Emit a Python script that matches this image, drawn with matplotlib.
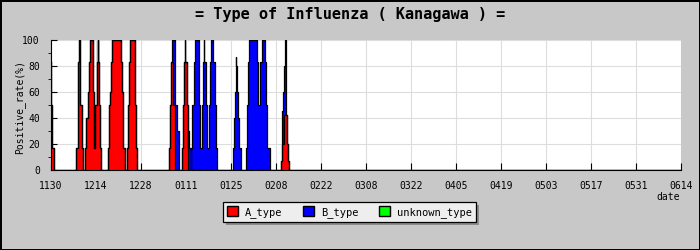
import matplotlib

matplotlib.use("Agg")

import matplotlib.pyplot as plt
import numpy as np
from matplotlib.patches import Patch

# x axis: days counted from 11/30, ticks every two weeks
tick_labels = ["1130", "1214", "1228", "0111", "0125", "0208", "0222",
               "0308", "0322", "0405", "0419", "0503", "0517", "0531", "0614"]
tick_days = [0, 14, 28, 42, 56, 70, 84, 98, 112, 126, 140, 154, 168, 182, 196]

# A_type: step breakpoints (day offset) and positive rate from that point on
a_days = [0.0, 0.15, 0.4, 0.85,
          7.87, 8.31, 8.49, 8.8, 8.96, 9.12, 9.55, 9.96,
          10.6, 11.0, 11.4, 11.7, 11.98, 13.0, 13.2, 13.47, 13.78,
          14.31, 14.53, 14.72, 15.03, 15.34, 15.71,
          17.83, 18.14, 18.36, 18.57, 18.98, 21.87, 22.09, 22.31, 22.49, 22.93,
          23.74, 24.05, 24.27, 24.67, 25.98, 26.23, 26.44, 26.66,
          36.81, 37.12, 37.43, 38.06, 38.49, 38.68,
          40.85, 41.16, 41.47, 42.22, 42.53, 42.72,
          71.6, 71.8, 72.4, 73.34, 73.84, 74.05]
a_rate = [83, 50, 17, 0,
          17, 50, 83, 100, 83, 50, 17, 0,
          17, 40, 60, 83, 100, 83, 60, 17, 50,
          83, 100, 83, 50, 17, 0,
          17, 50, 60, 83, 100, 83, 60, 50, 17, 0,
          17, 50, 83, 100, 83, 50, 17, 0,
          17, 50, 83, 50, 17, 0,
          17, 50, 83, 50, 17, 0,
          7, 20, 42, 20, 7, 0]

# B_type: stacked on top of A_type
b_days = [37.74, 38.06, 38.49, 38.68, 39.3, 39.73, 39.92,
          41.69, 41.8, 42.72, 43.03, 43.47,
          43.56, 44.02, 44.49, 44.89, 45.95, 46.14, 46.45,
          47.0, 47.21, 47.61, 47.72, 48.15, 48.57,
          49.2, 49.47, 49.78, 50.5, 50.94, 51.34, 51.74,
          56.72, 57.0, 57.3, 57.5, 57.6, 57.7, 57.96, 58.3, 58.6, 59.02,
          60.67, 60.89, 61.2, 61.7, 64.0, 64.31, 65.13, 65.56, 66.68, 67.0,
          67.31, 68.15,
          71.96, 72.27, 72.4, 72.59, 72.87, 73.0, 73.12]
b_rate = [17, 50, 83, 50, 30, 17, 0,
          17, 0, 30, 17, 0,
          17, 50, 83, 100, 83, 50, 17,
          50, 83, 100, 83, 50, 17,
          50, 83, 100, 83, 50, 17, 0,
          17, 40, 60, 80, 87, 80, 60, 40, 17, 0,
          17, 50, 83, 100, 83, 50, 83, 100, 83, 50,
          17, 0,
          25, 40, 18, 38, 58, 38, 0]

# unknown_type: nothing reported
u_days = []
u_rate = []


def step_values(days, rates, grid):
    if len(days) == 0:
        return np.zeros_like(grid)
    days = np.asarray(days, dtype=float)
    rates = np.asarray(rates, dtype=float)
    idx = np.searchsorted(days, grid, side="right") - 1
    return np.where(idx >= 0, rates[np.clip(idx, 0, None)], 0.0)


grid = np.unique(np.concatenate([a_days, b_days, u_days, [0.0, 196.0]]))
a_on = step_values(a_days, a_rate, grid)
b_on = step_values(b_days, b_rate, grid) + a_on
u_on = step_values(u_days, u_rate, grid) + b_on

plt.rcParams["font.family"] = ["DejaVu Sans Mono"]

figure = plt.figure(figsize=(7, 2.5), dpi=100)
figure.patch.set_facecolor("#C8C8C8")
figure.patch.set_edgecolor("black")
figure.patch.set_linewidth(2)

axis = figure.add_axes([51 / 700, 80 / 250, 630 / 700, 130 / 250])
axis.set_facecolor("white")

axis.fill_between(grid, b_on, u_on, step="post", color="#00FF00", lw=0)
axis.fill_between(grid, a_on, b_on, step="post", color="#0000FF", lw=0)
axis.fill_between(grid, 0, a_on, step="post", color="#FF0000", lw=0)
axis.step(grid, b_on, where="post", color="black", lw=0.9)
axis.step(grid, a_on, where="post", color="black", lw=0.9)

axis.set_xlim(0, 196)
axis.set_ylim(0, 100)
axis.set_xticks(tick_days)
axis.set_xticklabels(tick_labels)
axis.set_yticks(range(0, 101, 20))
axis.set_yticks(range(10, 100, 20), minor=True)
axis.tick_params(axis="both", direction="in", labelsize=7, colors="black")
axis.tick_params(axis="x", length=5, pad=8)
axis.tick_params(axis="y", which="major", length=4, pad=8)
axis.tick_params(axis="y", which="minor", length=2.5)

axis.grid(color="#DDDDDD", lw=0.8)
axis.set_axisbelow(True)
axis.spines["top"].set_visible(False)
axis.spines["right"].set_visible(False)

figure.text(0.5, 1 - 14 / 250, "= Type of Influenza ( Kanagawa ) =",
            ha="center", va="center", fontsize=11, fontweight="bold")
figure.text(19.5 / 700, 1 - 107 / 250, "Positive_rate(%)", rotation=90,
            ha="center", va="center", fontsize=7)
figure.text(680 / 700, 1 - 197 / 250, "date", ha="right", va="center",
            fontsize=7)

handles = [
    Patch(facecolor="#FF0000", edgecolor="black", label="A_type"),
    Patch(facecolor="#0000FF", edgecolor="black", label="B_type"),
    Patch(facecolor="#00FF00", edgecolor="black", label="unknown_type"),
]
legend = figure.legend(
    handles=handles,
    loc="center",
    bbox_to_anchor=(349.5 / 700, 1 - 212 / 250),
    ncol=3,
    fontsize=7.5,
    handlelength=1.0,
    handleheight=1.0,
    handletextpad=0.7,
    columnspacing=2.0,
    borderpad=0.4,
    fancybox=False,
    shadow={"facecolor": "#8C8C8C", "edgecolor": "none", "alpha": 1},
    framealpha=1,
)
legend.get_frame().set_facecolor("#EEEEEE")
legend.get_frame().set_edgecolor("black")
legend.get_frame().set_linewidth(0.9)

figure.savefig("out.png", dpi=100, facecolor=figure.get_facecolor(),
               edgecolor=figure.get_edgecolor())
plt.close(figure)
